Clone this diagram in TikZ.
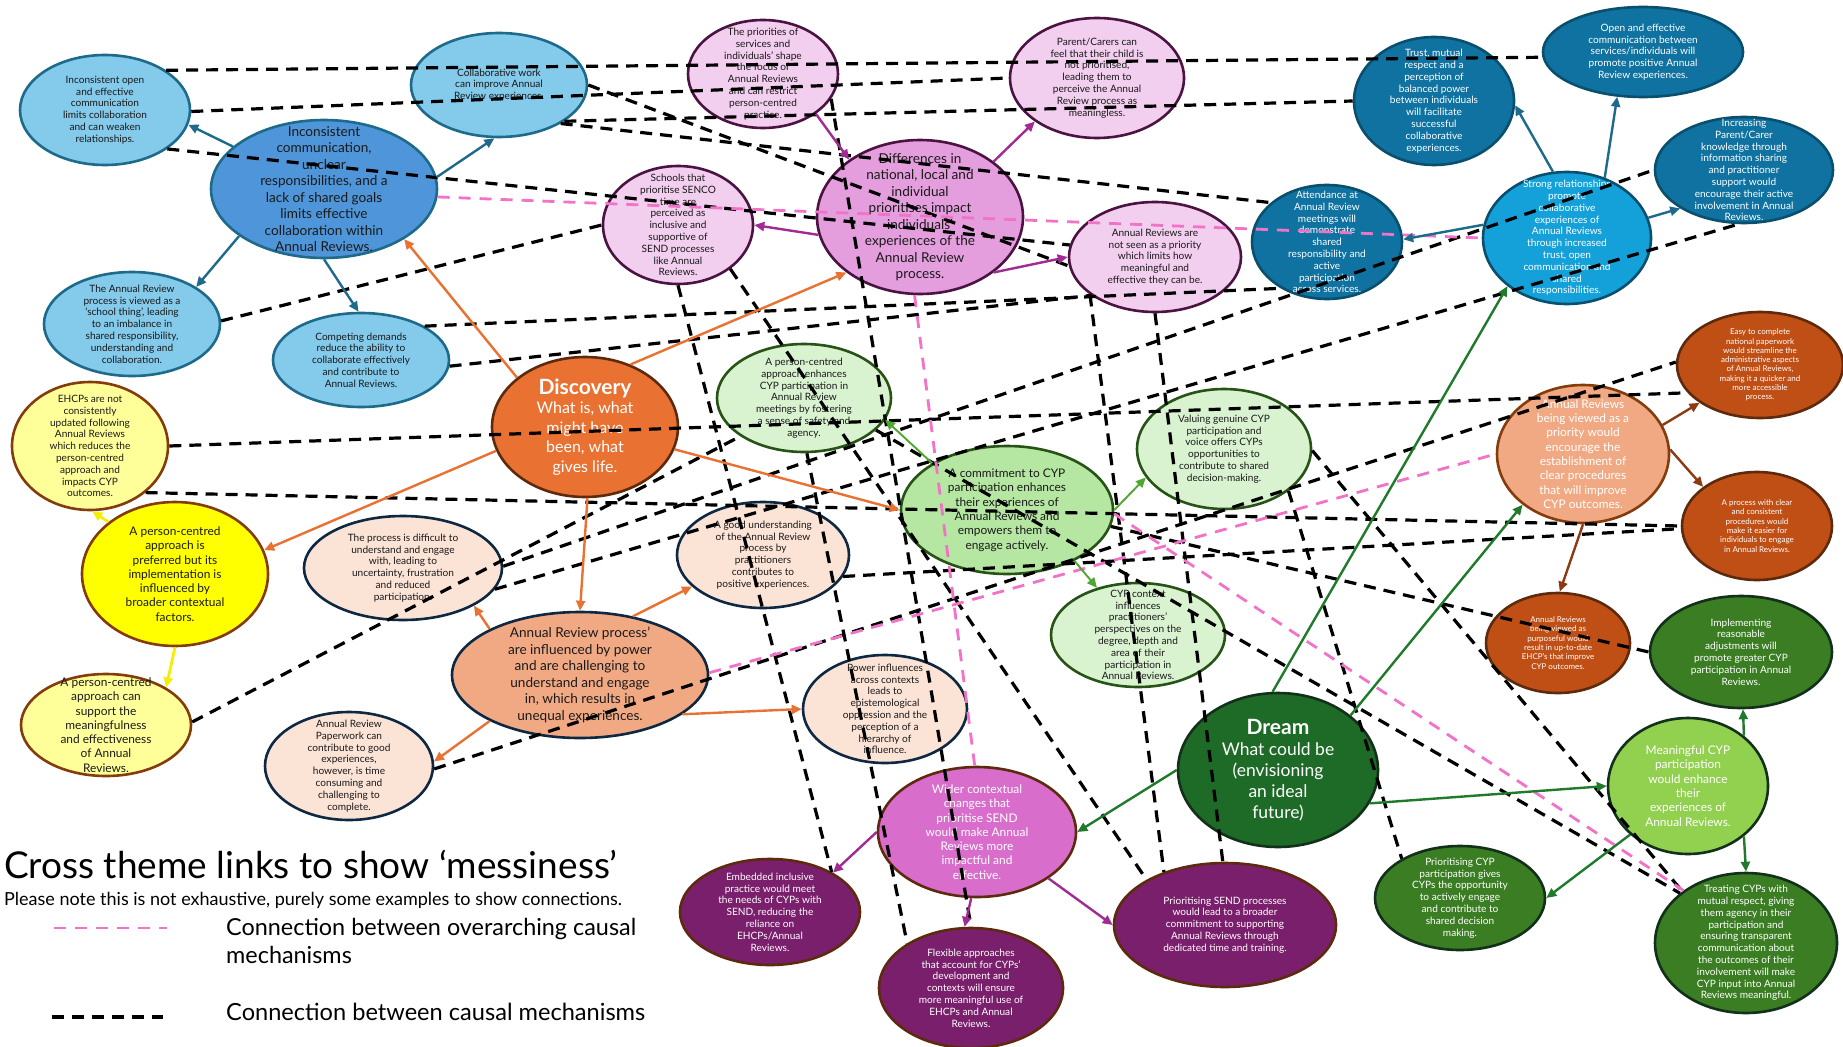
\documentclass[tikz,border=0pt]{standalone}
\usepackage{fontspec}
\setmainfont{Lato}
\usetikzlibrary{shapes.geometric,arrows.meta}

% fills and outlines
\definecolor{lblueF}{HTML}{83CAEB}
\definecolor{blueB}{HTML}{1D6A8A}
\definecolor{mblueF}{HTML}{4E95D9}
\definecolor{tealF}{HTML}{0F72A0}
\definecolor{tealB}{HTML}{0B4F6E}
\definecolor{cyanF}{HTML}{14A0D9}
\definecolor{pinkLF}{HTML}{F2CEEF}
\definecolor{pinkMF}{HTML}{E49EDD}
\definecolor{plumB}{HTML}{4A1342}
\definecolor{orchidF}{HTML}{D86DCB}
\definecolor{plumF}{HTML}{7A1F6C}
\definecolor{brownB}{HTML}{5E2A0E}
\definecolor{yelLF}{HTML}{FFFF99}
\definecolor{yelF}{HTML}{FFFF00}
\definecolor{yelB}{HTML}{843C0C}
\definecolor{discF}{HTML}{E97132}
\definecolor{salmonF}{HTML}{F1A983}
\definecolor{peachF}{HTML}{FBE3D6}
\definecolor{navyB}{HTML}{0E2841}
\definecolor{rustF}{HTML}{C04F15}
\definecolor{mintF}{HTML}{D9F2D0}
\definecolor{sageF}{HTML}{B5E6A2}
\definecolor{greenB}{HTML}{275317}
\definecolor{forestF}{HTML}{3B7D23}
\definecolor{limeF}{HTML}{92D050}
\definecolor{dreamF}{HTML}{1D6B27}
\definecolor{darkB}{HTML}{12301A}
% connectors
\definecolor{arrBlue}{HTML}{1D6A8A}
\definecolor{arrOrange}{HTML}{E97132}
\definecolor{arrPurple}{HTML}{A02B93}
\definecolor{arrGreen}{HTML}{1F7A2C}
\definecolor{arrLime}{HTML}{4EA72E}
\definecolor{arrBrown}{HTML}{8B3A12}
\definecolor{arrYellow}{HTML}{F5EE00}
\definecolor{linkPink}{HTML}{F272C8}
\definecolor{inkC}{HTML}{1A1A1A}

\tikzset{
  ell/.style={ellipse, draw, line width=2.6pt, inner sep=0pt},
  txt/.style={align=center, inner sep=0pt, text=inkC},
  tS/.style={font=\fontsize{10.1}{11.8}\selectfont},
  tM/.style={font=\fontsize{11.9}{14.3}\selectfont},
  tL/.style={font=\fontsize{13.6}{16.5}\selectfont},
  tT/.style={font=\fontsize{8}{9.3}\selectfont},
  tW/.style={text=white},
  sLblue/.style={fill=lblueF, draw=blueB},
  sMblue/.style={fill=mblueF, draw=blueB},
  sTeal/.style={fill=tealF, draw=tealB},
  sCyan/.style={fill=cyanF, draw=tealB},
  sPinkL/.style={fill=pinkLF, draw=plumB},
  sPinkM/.style={fill=pinkMF, draw=plumB},
  sOrchid/.style={fill=orchidF, draw=brownB},
  sPlum/.style={fill=plumF, draw=brownB},
  sYelL/.style={fill=yelLF, draw=yelB},
  sYel/.style={fill=yelF, draw=yelB},
  sDisc/.style={fill=discF, draw=brownB},
  sSalmonB/.style={fill=salmonF, draw=navyB},
  sSalmonO/.style={fill=salmonF, draw=yelB},
  sPeach/.style={fill=peachF, draw=navyB},
  sRust/.style={fill=rustF, draw=brownB},
  sMint/.style={fill=mintF, draw=greenB},
  sSage/.style={fill=sageF, draw=greenB},
  sForest/.style={fill=forestF, draw=darkB},
  sLime/.style={fill=limeF, draw=darkB},
  sDream/.style={fill=dreamF, draw=darkB},
  carr/.style={draw=#1, line width=2.4pt, -{Triangle[length=10pt,width=9pt]}},
  link/.style={draw=black, line width=3.2pt, dash pattern=on 12pt off 8pt},
  olink/.style={draw=linkPink, line width=2.8pt, dash pattern=on 12pt off 9pt},
  legtext/.style={anchor=base west, inner sep=0pt, text=black},
}

% name, centre, x radius, y radius, shape style, text style, text
\newcommand\bubble[7]{%
  \node[ell,#5,minimum width=#3*2pt,minimum height=#4*2pt] (#1) at (#2) {};
  \node[txt,#6] (#1-t) at (#1.center) {#7};%
}

\begin{document}
\begin{tikzpicture}[x=1pt,y=-1pt]
\fill[white] (0,0) rectangle (1843,1046);
\useasboundingbox (0,0) rectangle (1843,1046);

% ---------- collaboration theme (blue) ----------
\bubble{N1}{105,110}{85}{55}{sLblue}{tS}{Inconsistent open\\and effective\\communication\\limits collaboration\\and can weaken\\relationships.}
\bubble{N2}{324,189}{113}{69}{sMblue}{tL}{Inconsistent\\communication,\\unclear\\responsibilities, and a\\lack of shared goals\\limits effective\\collaboration within\\Annual Reviews.}
\bubble{N3}{132,324}{88}{52}{sLblue}{tS}{The Annual Review\\process is viewed as a\\‘school thing’, leading\\to an  imbalance in\\shared responsibility,\\understanding and\\collaboration.}
\bubble{N4}{361,360}{88}{47}{sLblue}{tS}{Competing demands\\reduce the ability to\\collaborate effectively\\and contribute to\\Annual Reviews.}
\bubble{N5}{499,85}{88}{52}{sLblue}{tS}{Collaborative work\\can improve Annual\\Review experiences.}

% ---------- priorities theme (pink) ----------
\bubble{P1}{763,74}{75}{54}{sPinkL}{tS}{The priorities of\\services and\\individuals’ shape\\the focus of\\Annual Reviews\\and can restrict\\person-centred\\practice.}
\bubble{P2}{678,225}{75}{59}{sPinkL}{tS}{Schools that\\prioritise SENCO\\time are\\perceived as\\inclusive and\\supportive of\\SEND processes\\like Annual\\Reviews.}
\bubble{P3}{920,217}{103}{77}{sPinkM}{tL}{Differences in\\national, local and\\individual\\prioritises impact\\individuals’\\experiences of the\\Annual Review\\process.}
\bubble{P4}{1097,78}{87}{60}{sPinkL}{tS}{Parent/Carers can\\feel that their child is\\not prioritised,\\leading them to\\perceive the Annual\\Review process as\\meaningless.}
\bubble{P5}{1155,257}{86}{55}{sPinkL}{tS}{Annual Reviews are\\not seen as a priority\\which limits how\\meaningful and\\effective they can be.}

% ---------- relationships (teal) ----------
\bubble{T1}{1327,242}{75}{57}{sTeal}{tS,tW}{Attendance at\\Annual Review\\meetings will\\demonstrate\\shared\\responsibility and\\active\\participation\\across services.}
\bubble{T2}{1434,101}{80}{64}{sTeal}{tS,tW}{Trust, mutual\\respect and a\\perception of\\balanced power\\between individuals\\will facilitate\\successful\\collaborative\\experiences.}
\bubble{T3}{1643,52}{100}{45}{sTeal}{tS,tW}{Open and effective\\communication between\\services/individuals will\\promote positive Annual\\Review experiences.}
\bubble{T4}{1744,170}{89}{53}{sTeal}{tS,tW}{Increasing\\Parent/Carer\\knowledge through\\information sharing\\and practitioner\\support would\\encourage their active\\involvement in Annual\\Reviews.}
\bubble{T5}{1567,238}{84}{66}{sCyan}{tS,tW}{Strong relationships\\promote\\collaborative\\experiences of\\Annual Reviews\\through increased\\trust, open\\communication and\\shared\\responsibilities.}

% ---------- procedures (rust) ----------
\bubble{O1}{1760,365}{83}{53}{sRust}{tT,tW}{Easy to complete\\national paperwork\\would streamline the\\administrative aspects\\of Annual Reviews,\\making it a quicker and\\more accessible\\process.}
\bubble{O2}{1583,454}{86}{69}{sSalmonO}{tM,tW}{Annual Reviews\\being viewed as a\\priority would\\encourage the\\establishment of\\clear procedures\\that will improve\\CYP outcomes.}
\bubble{O3}{1757,526}{75}{54}{sRust}{tT,tW}{A process with clear\\and consistent\\procedures would\\make it easier for\\individuals to  engage\\in Annual Reviews.}
\bubble{O4}{1558,643}{72}{50}{sRust}{tT,tW}{Annual Reviews\\being viewed  as\\purposeful would\\result in up-to-date\\EHCP’s that improve\\CYP outcomes.}

% ---------- dream (greens) ----------
\bubble{G1}{1741,652}{91}{56}{sForest}{tS,tW}{Implementing\\reasonable\\adjustments will\\promote greater CYP\\participation in Annual\\Reviews.}
\bubble{G2}{1688,786}{80}{68}{sLime}{tM,tW}{Meaningful CYP\\participation\\would enhance\\their\\experiences of\\Annual Reviews.}
\bubble{G3}{1460,898}{85}{52}{sForest}{tS,tW}{Prioritising CYP\\participation gives\\CYPs the opportunity\\to actively engage\\and contribute to\\shared decision\\making.}
\bubble{G4}{1746,943}{91}{70}{sForest}{tS,tW}{Treating CYPs with\\mutual respect, giving\\them agency in their\\participation and\\ensuring transparent\\communication about\\the outcomes of their\\involvement will make\\CYP input into Annual\\Reviews meaningful.}
\bubble{Dream}{1278,770}{100}{77}{sDream}{tW,font=\fontsize{17.5}{21}\selectfont}{{\fontsize{21}{21}\selectfont\bfseries Dream}\\What could be\\(envisioning\\an ideal\\future)}

% ---------- SEND priorities (plum) ----------
\bubble{M1}{977,832}{99}{65}{sOrchid}{tM,tW}{Wider contextual\\changes that\\prioritise SEND\\would make Annual\\Reviews more\\impactful and\\effective.}
\bubble{M2}{1225,925}{111}{62}{sPlum}{tS,tW}{Prioritising SEND processes\\would lead to a  broader\\commitment to supporting\\Annual Reviews through\\dedicated time and training.}
\bubble{M3}{971,988}{92}{60}{sPlum}{tS,tW}{Flexible approaches\\that account for CYPs’\\development and\\contexts will ensure\\more meaningful use of\\EHCPs and Annual\\Reviews.}
\bubble{M4}{770,912}{90}{53}{sPlum}{tS,tW}{Embedded inclusive\\practice would meet\\the needs of CYPs with\\SEND, reducing the\\reliance on\\EHCPs/Annual\\Reviews.}

% ---------- person-centred (yellow) ----------
\bubble{Y1}{90,446}{78}{64}{sYelL}{tS}{EHCPs are not\\consistently\\updated following\\Annual Reviews\\which reduces the\\person-centred\\approach and\\impacts CYP\\outcomes.}
\bubble{Y2}{175,574}{93}{72}{sYel}{tM}{A person-centred\\approach is\\preferred but its\\implementation is\\influenced by\\broader contextual\\factors.}
\bubble{Y3}{106,725}{85}{51}{sYelL}{tM}{A person-centred\\approach can\\support the\\meaningfulness\\and effectiveness\\of Annual\\Reviews.}

% ---------- discovery and process ----------
\bubble{Disc}{585,427}{93}{70}{sDisc}{tW,font=\fontsize{16}{19.5}\selectfont}{{\fontsize{21}{19.5}\selectfont\bfseries Discovery}\\What is, what\\might have\\been, what\\gives life.}
\bubble{B1}{349,766}{84}{54}{sPeach}{tS}{Annual Review\\Paperwork can\\contribute to good\\experiences,\\however, is time\\consuming and\\challenging to\\complete.}
\bubble{B2}{403,568}{99}{52}{sPeach}{tS}{The process is difficult to\\understand and engage\\with, leading to\\uncertainty, frustration\\and reduced\\participation.}
\bubble{B3}{580,675}{128}{63}{sSalmonB}{tL}{Annual Review process’\\are influenced by power\\and are challenging to\\understand and engage\\in, which results in\\unequal experiences.}
\bubble{B4}{763,555}{86}{53}{sPeach}{tS}{A good understanding\\of the Annual Review\\process by\\practitioners\\contributes to\\positive experiences.}
\bubble{B5}{885,709}{82}{54}{sPeach}{tS}{Power influences\\across contexts\\leads to\\epistemological\\oppression and the\\perception of a\\hierarchy of\\influence.}

% ---------- CYP participation (light greens) ----------
\bubble{LG1}{804,398}{87}{54}{sMint}{tS}{A person-centred\\approach enhances\\CYP participation in\\Annual Review\\meetings by fostering\\a sense of safety and\\agency.}
\bubble{LG2}{1007,510}{106}{64}{sSage}{tM}{A commitment to CYP\\participation enhances\\their experiences of\\Annual Reviews and\\empowers them to\\engage actively.}
\bubble{LG3}{1224,449}{87}{60}{sMint}{tS}{Valuing genuine CYP\\participation and\\voice offers CYPs\\opportunities to\\contribute to shared\\decision-making.}
\bubble{LG4}{1138,635}{87}{52}{sMint}{tS}{CYP context\\influences\\practitioners’\\perspectives on the\\degree, depth and\\area of their\\participation in\\Annual Reviews.}

% ---------- links between causal mechanisms ----------
\draw[link] (N1.33) -- (T3.183);
\draw[link] (N1.-1) -- (P4.180);
\draw[link] (N1.-32) -- (P5.172);
\draw[link] (N3.2) -- (P2.180);
\draw[link] (N4.28) -- (T1.225);
\draw[link] (N4.-4) -- (P5.211);
\draw[link] (N5.-32) -- (T1.145);
\draw[link] (N5.-29) -- (T2.180);
\draw[link] (N5.0) -- (P5.186);
\draw[link] (P2.-90) -- (M4.33);
\draw[link] (P2.-40) -- (M2.150);
\draw[link] (LG1.-87) -- (M3.145);
\draw[link] (P1.-20) -- (M3.90);
\draw[link] (P5.210) -- (M2.139);
\draw[link] (P5.-90) -- (M2.92);
\draw[link] (LG3.-33) -- (G3.146);
\draw[link] (LG3.-1) -- (G4.141);
\draw[link] (LG1.-24) -- (G4.143);
\draw[link] (LG2.-9) -- (G1.180);
\draw[link] (Y1.0) -- (O1.201);
\draw[link] (Y1.-40) -- (O3.180);
\draw[link] (B4.-15) -- (O3.182);
\draw[link] (B1.-2) -- (O1.178);
\draw[link] (B2.1) -- (T4.180);
\draw[link] (B2.-13) -- (T4.-96);
\draw[link] (Y3.2) -- (LG1.211);

% ---------- links between overarching mechanisms ----------
\draw[olink] (N2.-4) -- (T5.180);
\draw[olink] (P3.-94) -- (M1.92);
\draw[olink] (B3.1) -- (O2.180);
\draw[olink] (LG2.-2) -- (G4.140);

% ---------- within-theme arrows ----------
\draw[carr=arrBlue] (N2.155) -- (N1.-10);
\draw[carr=arrBlue] (N2.6) -- (N5.-95);
\draw[carr=arrBlue] (N2.209) -- (N3.30);
\draw[carr=arrBlue] (N2.-90) -- (N4.93);
\draw[carr=arrBlue] (T5.102) -- (T2.-3);
\draw[carr=arrBlue] (T5.58) -- (T3.-120);
\draw[carr=arrBlue] (T5.14) -- (T4.211);
\draw[carr=arrBlue] (T5.171) -- (T1.2);

\draw[carr=arrOrange] (Disc.144) -- (N2.-32);
\draw[carr=arrOrange] (Disc.54) -- (P3.217);
\draw[carr=arrOrange] (Disc.195) -- (Y2.15);
\draw[carr=arrOrange] (Disc.-88) -- (B3.90);
\draw[carr=arrOrange] (Disc.-14) -- (LG2.180);
\draw[carr=arrOrange] (B3.153) -- (B2.-28);
\draw[carr=arrOrange] (B3.48) -- (B4.204);
\draw[carr=arrOrange] (B3.-21) -- (B5.180);
\draw[carr=arrOrange] (B3.207) -- (B1.3);

\draw[carr=arrPurple] (P1.-37) -- (P3.141);
\draw[carr=arrPurple] (P3.190) -- (P2.0);
\draw[carr=arrPurple] (P3.37) -- (P4.215);
\draw[carr=arrPurple] (P3.-37) -- (P5.180);
\draw[carr=arrPurple] (M1.180) -- (M4.32);
\draw[carr=arrPurple] (M1.-95) -- (M3.96);
\draw[carr=arrPurple] (M1.-33) -- (M2.180);

\draw[carr=arrGreen] (Dream.94) -- (T5.219);
\draw[carr=arrGreen] (Dream.37) -- (O2.220);
\draw[carr=arrGreen] (Dream.180) -- (M1.0);
\draw[carr=arrGreen] (Dream.-20) -- (G2.180);
\draw[carr=arrGreen] (G2.42) -- (G1.-88);
\draw[carr=arrGreen] (G2.-42) -- (G4.90);
\draw[carr=arrGreen] (G2.220) -- (G3.0);

\draw[carr=arrLime, line width=1.9pt] (LG2.148) -- (LG1.-15);
\draw[carr=arrLime, line width=1.9pt] (LG2.0) -- (LG3.200);
\draw[carr=arrLime, line width=1.9pt] (LG2.-37) -- (LG4.131);

\draw[carr=arrBrown] (O2.20) -- (O1.212);
\draw[carr=arrBrown] (O2.3) -- (O3.144);
\draw[carr=arrBrown] (O2.-90) -- (O4.88);

\draw[carr=arrYellow, line width=2.8pt] (Y2.142) -- (Y1.-88);
\draw[carr=arrYellow, line width=2.8pt] (Y2.-90) -- (Y3.32);

% ---------- key ----------
\node[legtext, font=\fontsize{37}{42}\selectfont] (title) at (4,878) {Cross theme links to show ‘messiness’};
\node[legtext, font=\fontsize{18}{21}\selectfont] (note) at (4,905) {Please note this is not exhaustive, purely some examples to show connections.};
\coordinate (keyPinkA) at (54,928);
\coordinate (keyPinkB) at (167,928);
\draw[olink] (keyPinkA) -- (keyPinkB);
\node[legtext, font=\fontsize{23.4}{28}\selectfont] (keyPinkText) at (226,935) {Connection between overarching causal};
\node[legtext, font=\fontsize{23.4}{28}\selectfont] (keyPinkText2) at (226,963) {mechanisms};
\coordinate (keyBlackA) at (52,1017);
\coordinate (keyBlackB) at (163,1017);
\draw[link] (keyBlackA) -- (keyBlackB);
\node[legtext, font=\fontsize{23.6}{28}\selectfont] (keyBlackText) at (226,1020) {Connection between causal mechanisms};
\end{tikzpicture}
\end{document}
